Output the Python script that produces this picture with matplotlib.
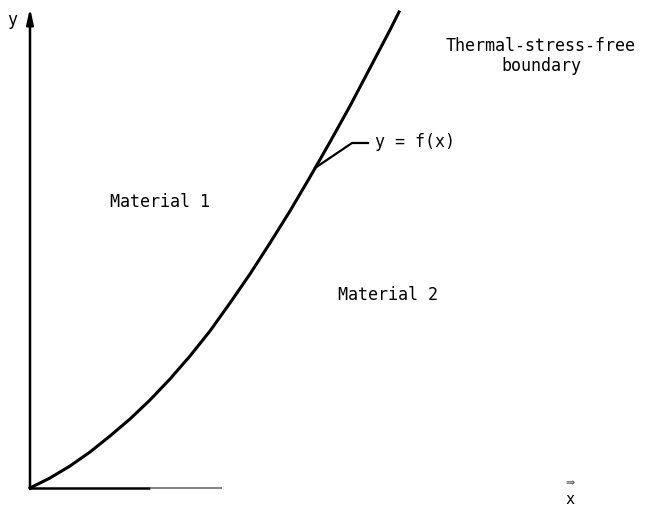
import matplotlib.pyplot as plt

# boundary curve y = f(x) (pixel units, y downward)
curve_x = [30, 50, 70, 90, 110, 130, 150, 170, 190, 210, 230, 250, 270,
           290, 310, 330, 350, 370, 390, 399]
curve_y = [488, 478, 466, 452, 436, 419, 400, 379, 356, 331, 303, 274, 243,
           211, 177, 142, 106, 68, 30, 12]

# leader line to the y = f(x) label
leader_x = [315, 352, 368]
leader_y = [168, 143, 143]

mono = 'DejaVu Sans Mono'

fig = plt.figure(figsize=(6.45, 5.14), dpi=100)
ax = fig.add_axes([0, 0, 1, 1])
ax.set_xlim(0, 645)
ax.set_ylim(514, 0)
ax.axis('off')

# y axis with arrow
ax.annotate('', xy=(30, 8), xytext=(30, 489),
            arrowprops=dict(arrowstyle='-|>,head_length=0.9,head_width=0.2',
                            lw=1.8, color='black', shrinkA=0, shrinkB=0))
# x axis (faded in the scan)
ax.plot([29, 150], [488, 488], color='black', lw=1.8, solid_capstyle='butt')
ax.plot([150, 222], [488, 488], color='#777777', lw=1.3, solid_capstyle='butt')

ax.plot(curve_x, curve_y, color='black', lw=2.2, solid_joinstyle='round')
ax.plot(leader_x, leader_y, color='black', lw=1.6)

ax.text(12, 20, 'y', fontsize=12, family=mono, ha='center', va='center')
ax.text(570, 483, '⇛', fontsize=8, family='DejaVu Sans', ha='center', va='center',
        color='#555555')
ax.text(570, 500, 'x', fontsize=11, family=mono, ha='center', va='center')

ax.text(110, 202, 'Material 1', fontsize=12, family=mono, ha='left', va='center')
ax.text(338, 295, 'Material 2', fontsize=12, family=mono, ha='left', va='center')
ax.text(375, 142, 'y = f(x)', fontsize=12, family=mono, ha='left', va='center')
ax.text(541, 56, 'Thermal-stress-free\nboundary', fontsize=12, family=mono,
        ha='center', va='center', linespacing=1.15)

fig.savefig('out.png', dpi=100, facecolor='white')
